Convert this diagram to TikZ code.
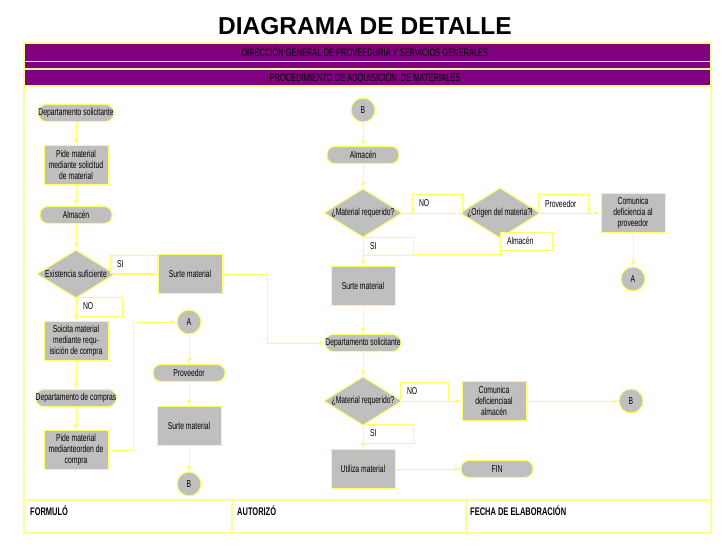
\documentclass[tikz,border=0pt]{standalone}
\usepackage{fontspec}
\setmainfont{Liberation Sans}
\newfontfamily\cond[FakeStretch=0.68]{Liberation Sans}
\usetikzlibrary{shapes.geometric}
\pgfdeclarelayer{edgelayer}
\pgfdeclarelayer{nodelayer}
\pgfsetlayers{edgelayer,nodelayer,main}
\definecolor{boxgray}{RGB}{191,191,191}
\definecolor{lineyellow}{RGB}{255,255,102}
\definecolor{frameyellow}{RGB}{255,255,140}
\definecolor{headpurple}{RGB}{128,0,128}
\newcommand{\nodefont}{\cond\fontsize{10}{11}\selectfont}
\tikzstyle{none}=[inner sep=0pt]
\tikzstyle{terminal}=[rectangle,rounded corners=8pt,fill=boxgray,draw=lineyellow,line width=1pt,minimum width=72pt,minimum height=17pt,inner sep=0pt,font=\nodefont]
\tikzstyle{process}=[rectangle,fill=boxgray,draw=lineyellow,line width=1pt,minimum width=64pt,minimum height=39pt,inner sep=1pt,align=center,font=\nodefont]
\tikzstyle{decision}=[diamond,aspect=1.6,fill=boxgray,draw=lineyellow,line width=1pt,minimum width=78pt,minimum height=48pt,inner sep=0pt,font=\nodefont]
\tikzstyle{connector}=[circle,fill=boxgray,draw=lineyellow,line width=1pt,minimum size=24pt,inner sep=0pt,font=\nodefont]
\tikzstyle{tag}=[rectangle,fill=white,draw=lineyellow,line width=1pt,minimum height=18pt,inner xsep=7pt,inner ysep=0pt,align=left,font=\nodefont]
\tikzstyle{transition}=[-latex,draw=lineyellow,line width=1pt]
\tikzstyle{frame}=[draw=frameyellow,line width=1.5pt]

\begin{document}
\begin{tikzpicture}[x=1pt,y=-1pt]
	\useasboundingbox (0,0) rectangle (728,546);
	% sheet
	\draw [style=frame] (24,43) rectangle (711,533);
	\draw [style=frame,fill=headpurple] (24,43) rectangle (711,61.5);
	\draw [style=frame,fill=headpurple] (24,61.5) rectangle (711,69);
	\draw [style=frame,fill=headpurple] (24,69) rectangle (711,86);
	\draw [style=frame] (24,500) -- (711,500);
	\draw [style=frame] (232,500) -- (232,533);
	\draw [style=frame] (466,500) -- (466,533);
	\node [style=none,font=\bfseries\fontsize{24.5}{24.5}\selectfont] (t) at (365,26) {DIAGRAMA DE DETALLE};
	\node [style=none,font=\cond\fontsize{11}{11}\selectfont] (h1) at (365,52) {DIRECCIÓN GENERAL DE PROVEEDURIA Y SERVICIOS GENERALES};
	\node [style=none,font=\cond\fontsize{11}{11}\selectfont] (h2) at (365,78) {PROCEDIMIENTO DE ADQUISICIÓN\ \ DE MATERIALES};
	\node [style=none,anchor=west,font=\cond\bfseries\fontsize{11}{11}\selectfont] (f1) at (30,511) {FORMULÓ};
	\node [style=none,anchor=west,font=\cond\bfseries\fontsize{11}{11}\selectfont] (f2) at (237,511) {AUTORIZÓ};
	\node [style=none,anchor=west,font=\cond\bfseries\fontsize{11}{11}\selectfont] (f3) at (470,511) {FECHA DE ELABORACIÓN};
	\begin{pgfonlayer}{nodelayer}
		\node [style=terminal] (0) at (76,113) {Departamento solicitante};
		\node [style=process] (1) at (76,165) {Pide material\\mediante solicitud\\de material};
		\node [style=terminal] (2) at (76,215) {Almacén};
		\node [style=decision] (3) at (76,274) {Existencia suficiente};
		\node [style=process] (4) at (190,274) {Surte material};
		\node [style=process] (5) at (76,341) {Soicita material\\mediante requ-\\isición de compra};
		\node [style=terminal] (6) at (76,398) {Departamento de compras};
		\node [style=process] (7) at (76,450) {Pide material\\medianteorden de\\compra};
		\node [style=connector] (8) at (189,322) {A};
		\node [style=terminal] (9) at (189,373) {Proveedor};
		\node [style=process] (10) at (189,426) {Surte material};
		\node [style=connector] (11) at (189,484) {B};
		\node [style=connector] (12) at (363,110) {B};
		\node [style=terminal] (13) at (363,155) {Almacén};
		\node [style=decision] (14) at (363,213) {¿Material requerido?};
		\node [style=decision] (15) at (500,213) {¿Origen del materia?l};
		\node [style=process] (16) at (633,213) {Comunica\\deficiencia al\\proveedor};
		\node [style=terminal] (17) at (363,343) {Departamento solicitante};
		\node [style=connector] (18) at (633,279) {A};
		\node [style=process] (19) at (363,286) {Surte material};
		\node [style=decision] (20) at (363,401) {¿Material requerido?};
		\node [style=process] (21) at (494,401) {Comunica\\deficienciaal\\almacén};
		\node [style=connector] (22) at (631,401) {B};
		\node [style=process] (23) at (363,469) {Utiliza material};
		\node [style=terminal] (24) at (497,469) {FIN};
		\node [style=tag,text width=33pt] (25) at (133.5,264) {SI};
		\node [style=tag,text width=32pt,minimum height=19pt] (26) at (99,306.5) {NO};
		\node [style=tag,text width=36pt,minimum height=19pt] (27) at (437,203.5) {NO};
		\node [style=tag,text width=36pt,minimum height=19pt] (28) at (563,203.5) {Proveedor};
		\node [style=tag,text width=38pt] (29) at (526,241) {Almacén};
		\node [style=tag,text width=36pt] (30) at (388,246) {SI};
		\node [style=tag,text width=34pt,minimum height=19pt] (31) at (424,391.5) {NO};
		\node [style=tag,text width=36pt,minimum height=19pt] (32) at (388,433.5) {SI};
		\node [style=none] (33) at (133,450) {};
		\node [style=none] (34) at (133,322) {};
		\node [style=none] (35) at (267,274) {};
		\node [style=none] (36) at (267,343) {};
		\node [style=none] (37) at (500,254) {};
		\coordinate (38) at (363,254);
	\end{pgfonlayer}
	\begin{pgfonlayer}{edgelayer}
		\draw [style=transition] (0) to (1);
		\draw [style=transition] (1) to (2);
		\draw [style=transition] (2) to (3);
		\draw [style=transition] (3) to (4);
		\draw [style=transition] (3) to (5);
		\draw [style=transition] (5) to (6);
		\draw [style=transition] (6) to (7);
		\draw [style=transition] (7) to (33.center) to (34.center) to (8);
		\draw [style=transition] (8) to (9);
		\draw [style=transition] (9) to (10);
		\draw [style=transition] (10) to (11);
		\draw [style=transition] (4) to (35.center) to (36.center) to (17);
		\draw [style=transition] (12) to (13);
		\draw [style=transition] (13) to (14);
		\draw [style=transition] (14) to (15);
		\draw [style=transition] (15) to (16);
		\draw [style=transition] (16) to (18);
		\draw [style=transition] (14) to (19);
		\draw [style=transition] (15) to (37.center) to (38);
		\draw [style=transition] (19) to (17);
		\draw [style=transition] (17) to (20);
		\draw [style=transition] (20) to (21);
		\draw [style=transition] (21) to (22);
		\draw [style=transition] (20) to (23);
		\draw [style=transition] (23) to (24);
	\end{pgfonlayer}
\end{tikzpicture}
\end{document}
